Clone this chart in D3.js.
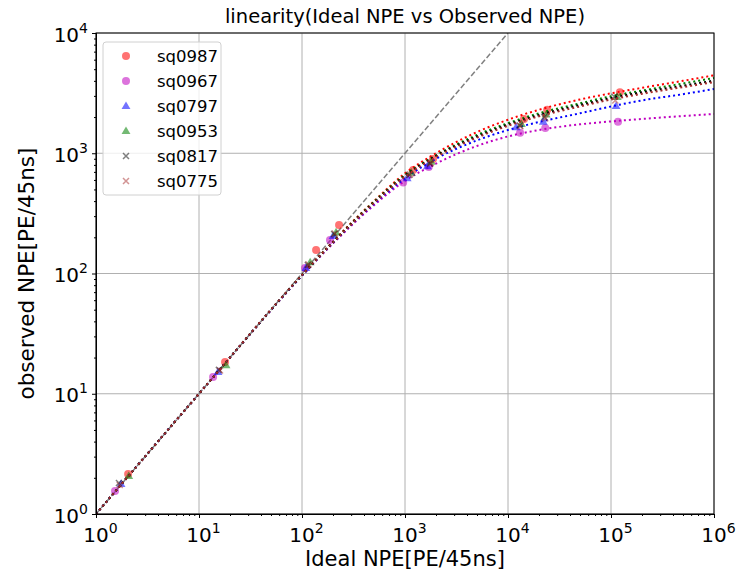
<!DOCTYPE html>
<html>
<head>
	<script type="text/javascript" src="https://cdn.jsdelivr.net/npm/d3@7"></script>
	<style>
		body { margin: 0; background: #fff; }
		text { font-family: "DejaVu Sans", sans-serif; }
	</style>
</head>
<body>
	<script type="text/javascript">

		// measured points, ideal vs observed NPE
		var names = ['sq0987', 'sq0967', 'sq0797', 'sq0953', 'sq0817', 'sq0775'];

		var sq0987X = [2.05, 17.9, 137, 229, 1200, 1870, 14300, 24000, 122000];
		var sq0987Y = [2.15, 18.4, 157, 253, 726, 896, 1930, 2300, 3220];
		var sq0967X = [1.53, 13.7, 107, 187, 960, 1700, 13100, 23000, 117000];
		var sq0967Y = [1.55, 13.8, 111, 190, 570, 770, 1480, 1620, 1830];
		var sq0797X = [1.75, 15.3, 109, 200, 1050, 1650, 12000, 22000, 112000];
		var sq0797Y = [1.78, 15.2, 111, 205, 620, 780, 1650, 1830, 2470];
		var sq0953X = [2.08, 18.3, 120, 214, 1150, 1800, 13500, 23500, 115000];
		var sq0953Y = [2.07, 17.3, 124, 220, 690, 850, 1750, 2100, 2940];
		var sq0817X = [1.67, 15.6, 114, 205, 1100, 1750, 13000, 22500, 108000];
		var sq0817Y = [1.81, 15.8, 118, 213, 660, 820, 1700, 2000, 2950];
		var sq0775X = [1.7, 16, 116, 208, 1120, 1780, 13200, 23000, 110000];
		var sq0775Y = [1.74, 15.6, 119, 215, 670, 830, 1680, 1950, 2750];

		// fit curves
		var fitX = [1, 10, 100, 200, 500, 1000, 2000, 5000, 1e4, 2e4, 5e4, 1e5, 2e5, 5e5, 1e6];
		var sq0987Fit = [1, 10, 97, 185, 400, 680, 1000, 1500, 1900, 2300, 2800, 3150, 3500, 4000, 4450];
		var sq0967Fit = [1, 10, 96, 178, 370, 590, 820, 1150, 1380, 1560, 1740, 1840, 1930, 2040, 2120];
		var sq0797Fit = [1, 10, 96, 180, 380, 620, 900, 1280, 1560, 1820, 2150, 2450, 2750, 3100, 3420];
		var sq0953Fit = [1, 10, 97, 183, 395, 660, 960, 1420, 1780, 2150, 2600, 2980, 3320, 3800, 4230];
		var sq0817Fit = [1, 10, 97, 182, 390, 650, 950, 1380, 1730, 2080, 2520, 2880, 3220, 3650, 4020];
		var sq0775Fit = [1, 10, 97, 181, 385, 640, 930, 1350, 1690, 2030, 2450, 2800, 3120, 3550, 3900];

		var xTicks = [1, 10, 100, 1000, 1e4, 1e5, 1e6];
		var yTicks = [1, 10, 100, 1000, 1e4];

		var series = [
			{name: names[0], xs: sq0987X, ys: sq0987Y, fit: sq0987Fit, marker: 'circle', fill: '#ff0000', line: '#ff0000'},
			{name: names[1], xs: sq0967X, ys: sq0967Y, fit: sq0967Fit, marker: 'circle', fill: '#bf00bf', line: '#bf00bf'},
			{name: names[2], xs: sq0797X, ys: sq0797Y, fit: sq0797Fit, marker: 'triangle', fill: '#0000ff', line: '#0000ff'},
			{name: names[3], xs: sq0953X, ys: sq0953Y, fit: sq0953Fit, marker: 'triangle', fill: '#008000', line: '#008000'},
			{name: names[4], xs: sq0817X, ys: sq0817Y, fit: sq0817Fit, marker: 'x', fill: '#000000', line: '#000000'},
			{name: names[5], xs: sq0775X, ys: sq0775Y, fit: sq0775Fit, marker: 'x', fill: '#a52a2a', line: '#a52a2a'}
		];

		var margin = {top: 33, left: 96, right: 25, bottom: 58};
		var width = 739 - margin.left - margin.right;
		var height = 572 - margin.top - margin.bottom;

		var xScale = d3.scaleLog().domain([1, 1e6]).range([0, width]);
		var yScale = d3.scaleLog().domain([1, 1e4]).range([height, 0]);

		var svg = d3.select('body')
			.append('svg')
			.attr('width', 739)
			.attr('height', 572)
			.append('g')
			.attr('transform', 'translate(' + margin.left + ',' + margin.top + ')');

		svg.append('defs').append('clipPath')
			.attr('id', 'plot-clip')
			.append('rect')
			.attr('width', width)
			.attr('height', height);

		// grid
		svg.append('g').selectAll('line')
			.data(xTicks)
			.enter()
			.append('line')
			.attr('x1', function(d) { return xScale(d); })
			.attr('x2', function(d) { return xScale(d); })
			.attr('y1', 0)
			.attr('y2', height)
			.attr('stroke', '#b0b0b0')
			.attr('stroke-width', 1);

		svg.append('g').selectAll('line')
			.data(yTicks)
			.enter()
			.append('line')
			.attr('y1', function(d) { return yScale(d); })
			.attr('y2', function(d) { return yScale(d); })
			.attr('x1', 0)
			.attr('x2', width)
			.attr('stroke', '#b0b0b0')
			.attr('stroke-width', 1);

		var plot = svg.append('g').attr('clip-path', 'url(#plot-clip)');

		// y = x reference
		plot.append('line')
			.attr('x1', xScale(1))
			.attr('y1', yScale(1))
			.attr('x2', xScale(1e4))
			.attr('y2', yScale(1e4))
			.attr('stroke', 'grey')
			.attr('stroke-width', 1.5)
			.attr('stroke-dasharray', '5.5,2.4');

		var line = d3.line()
			.x(function(d) { return xScale(d[0]); })
			.y(function(d) { return yScale(d[1]); })
			.curve(d3.curveMonotoneX);

		var triangle = d3.symbol().type(d3.symbolTriangle).size(34);

		function drawMarker(g, type, color, px, py) {
			if (type === 'circle') {
				g.append('circle')
					.attr('cx', px).attr('cy', py).attr('r', 4)
					.attr('fill', color).attr('fill-opacity', 0.55);
			} else if (type === 'triangle') {
				g.append('path')
					.attr('d', triangle())
					.attr('transform', 'translate(' + px + ',' + (py + 0.5) + ')')
					.attr('fill', color).attr('fill-opacity', 0.55);
			} else {
				var s = 3;
				g.append('path')
					.attr('d', 'M' + (px - s) + ',' + (py - s) + 'L' + (px + s) + ',' + (py + s) +
						'M' + (px - s) + ',' + (py + s) + 'L' + (px + s) + ',' + (py - s))
					.attr('stroke', color).attr('stroke-opacity', 0.5).attr('stroke-width', 1.5)
					.attr('fill', 'none');
			}
		}

		series.forEach(function(s) {
			var g = plot.append('g');
			s.xs.forEach(function(v, i) {
				drawMarker(g, s.marker, s.fill, xScale(v), yScale(s.ys[i]));
			});
			g.append('path')
				.datum(fitX.map(function(v, i) { return [v, s.fit[i]]; }))
				.attr('d', line)
				.attr('fill', 'none')
				.attr('stroke', s.line)
				.attr('stroke-width', 2)
				.attr('stroke-dasharray', '2,3');
		});

		// axes
		function minors(lo, hi) {
			var out = [];
			for (var e = lo; e < hi; e++) {
				for (var k = 2; k <= 9; k++) out.push(k * Math.pow(10, e));
			}
			return out;
		}

		svg.append('g')
			.attr('transform', 'translate(0,' + height + ')')
			.call(d3.axisBottom(xScale).tickValues(minors(0, 6)).tickSize(2).tickFormat(''));
		svg.append('g')
			.call(d3.axisLeft(yScale).tickValues(minors(0, 4)).tickSize(2).tickFormat(''));

		var xAxis = svg.append('g')
			.attr('class', 'x-axis')
			.attr('transform', 'translate(0,' + height + ')')
			.call(d3.axisBottom(xScale).tickValues(xTicks).tickSize(4).tickFormat(''));
		var yAxis = svg.append('g')
			.attr('class', 'y-axis')
			.call(d3.axisLeft(yScale).tickValues(yTicks).tickSize(4).tickFormat(''));

		svg.selectAll('.domain').attr('stroke', '#000');
		svg.selectAll('.tick line').attr('stroke', '#000');

		function powLabel(sel, v) {
			sel.append('tspan').text('10');
			sel.append('tspan')
				.attr('dy', -9)
				.attr('font-size', 14)
				.text(Math.round(Math.log10(v)));
		}

		xAxis.selectAll('.tick').each(function(d) {
			var t = d3.select(this).append('text')
				.attr('x', 4)
				.attr('y', 28)
				.attr('fill', '#000')
				.attr('font-size', 20)
				.attr('text-anchor', 'middle');
			powLabel(t, d);
		});

		yAxis.selectAll('.tick').each(function(d) {
			var t = d3.select(this).append('text')
				.attr('x', -8)
				.attr('y', 8)
				.attr('fill', '#000')
				.attr('font-size', 20)
				.attr('text-anchor', 'end');
			powLabel(t, d);
		});

		// frame
		svg.append('rect')
			.attr('width', width)
			.attr('height', height)
			.attr('fill', 'none')
			.attr('stroke', '#000')
			.attr('stroke-width', 1);

		// legend
		var legend = svg.append('g').attr('transform', 'translate(7,9)');
		legend.append('rect')
			.attr('width', 118)
			.attr('height', 153)
			.attr('rx', 3)
			.attr('fill', '#fff')
			.attr('fill-opacity', 0.8)
			.attr('stroke', '#d0d0d0');
		series.forEach(function(s, i) {
			var yy = 14 + i * 25;
			drawMarker(legend, s.marker, s.fill, 23, yy);
			legend.append('text')
				.attr('x', 54)
				.attr('y', yy + 6)
				.attr('font-size', 16.5)
				.attr('fill', '#000')
				.text(s.name);
		});

		// labels
		svg.append('text')
			.attr('x', width / 2)
			.attr('y', -10)
			.attr('text-anchor', 'middle')
			.attr('font-size', 19.5)
			.text('linearity(Ideal NPE vs Observed NPE)');

		svg.append('text')
			.attr('x', width / 2)
			.attr('y', height + 52)
			.attr('text-anchor', 'middle')
			.attr('font-size', 21)
			.text('Ideal NPE[PE/45ns]');

		svg.append('text')
			.attr('transform', 'translate(' + (-62) + ',' + (height / 2) + ') rotate(-90)')
			.attr('text-anchor', 'middle')
			.attr('font-size', 21.5)
			.text('observed NPE[PE/45ns]');

	</script>
</body>
</html>
